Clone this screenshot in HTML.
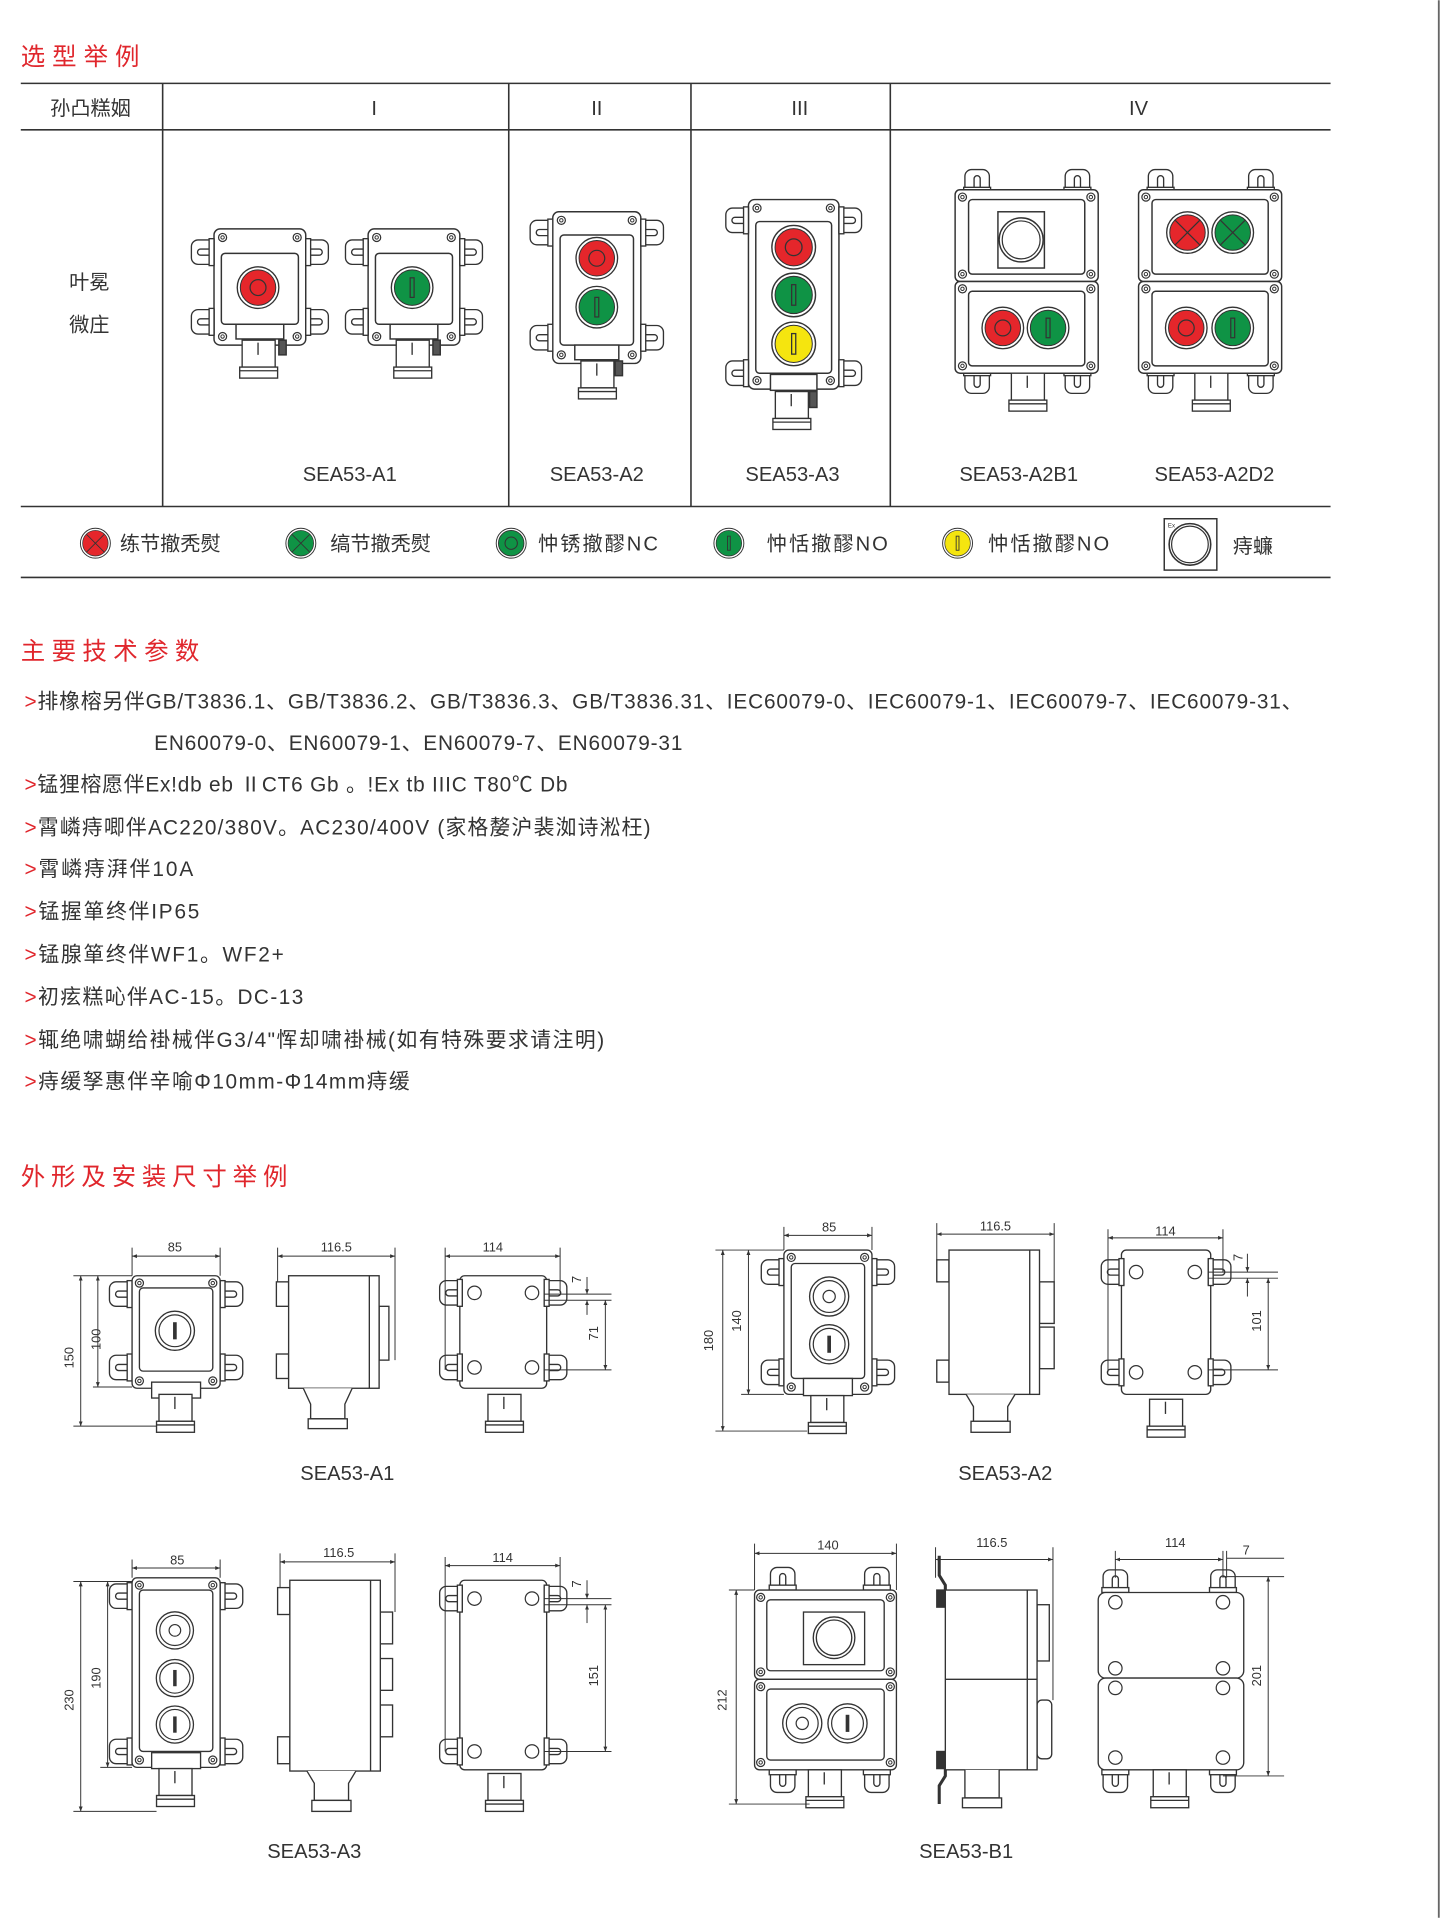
<!DOCTYPE html>
<html><head><meta charset="utf-8"><style>
html,body{margin:0;padding:0;background:#fff;}
svg{display:block;}
text{font-family:"Liberation Sans","Noto Sans CJK SC",sans-serif;}
</style></head><body>
<svg width="1441" height="1918" viewBox="0 0 1178.3 1568" xmlns="http://www.w3.org/2000/svg">
<defs>
<marker id="a" viewBox="0 0 10 10" refX="10" refY="5" markerWidth="5" markerHeight="5" orient="auto-start-reverse"><path d="M0 1L10 5L0 9z" fill="#333"/></marker>
<g id="eL" fill="#fff" stroke="#333" stroke-width="1.1"><path d="M0 -10 h-13 a5.5 5.5 0 0 0 -5.5 5.5 v9 a5.5 5.5 0 0 0 5.5 5.5 h13 z"/><path d="M0 -2.5 h-11 a2.5 2.5 0 0 0 0 5 h11" fill="none"/><rect x="-4" y="-11" width="4" height="22"/></g>
<g id="sc"><circle r="3.3" fill="#fff" stroke="#333" stroke-width="1"/><circle r="1.4" fill="none" stroke="#333" stroke-width=".8"/></g>
<g id="bR"><circle r="17" fill="#fff" stroke="#333" stroke-width="1.1"/><circle r="14.5" fill="#e5262b" stroke="#333" stroke-width=".8"/><circle r="6.5" fill="none" stroke="#333" stroke-width="1"/></g>
<g id="bG"><circle r="17" fill="#fff" stroke="#333" stroke-width="1.1"/><circle r="14.5" fill="#0f9345" stroke="#333" stroke-width=".8"/><rect x="-1.6" y="-8" width="3.2" height="16" fill="none" stroke="#333" stroke-width="1"/></g>
<g id="bY"><circle r="17" fill="#fff" stroke="#333" stroke-width="1.1"/><circle r="14.5" fill="#f5e50f" stroke="#333" stroke-width=".8"/><rect x="-1.6" y="-8" width="3.2" height="16" fill="none" stroke="#333" stroke-width="1"/></g>
<g id="bRX"><circle r="17" fill="#fff" stroke="#333" stroke-width="1.1"/><circle r="14.5" fill="#e5262b" stroke="#333" stroke-width=".8"/><path d="M-10 -10L10 10M10 -10L-10 10" stroke="#333" stroke-width="1"/></g>
<g id="bGX"><circle r="17" fill="#fff" stroke="#333" stroke-width="1.1"/><circle r="14.5" fill="#0f9345" stroke="#333" stroke-width=".8"/><path d="M-10 -10L10 10M10 -10L-10 10" stroke="#333" stroke-width="1"/></g>
<g id="wO"><circle r="16" fill="#fff" stroke="#333" stroke-width="1.1"/><circle r="13" fill="none" stroke="#333" stroke-width="1"/><circle r="5" fill="none" stroke="#333" stroke-width="1"/></g>
<g id="wI"><circle r="16" fill="#fff" stroke="#333" stroke-width="1.1"/><circle r="13" fill="none" stroke="#333" stroke-width="1"/><rect x="-1.5" y="-7" width="3" height="14" fill="#333"/></g>
<g id="hole"><circle r="5.5" fill="#fff" stroke="#333" stroke-width="1"/></g>
<g id="gl" fill="#fff" stroke="#333" stroke-width="1.1"><rect x="0" y="0" width="27" height="22"/><line x1="13" y1="2" x2="13" y2="12"/><rect x="-2" y="22" width="31" height="9"/><line x1="-2" y1="25" x2="29" y2="25"/></g>
</defs>

<g fill="none" stroke="#333" stroke-width="1.3">
<line x1="17" y1="68" x2="1088" y2="68"/>
<line x1="17" y1="106" x2="1088" y2="106"/>
<line x1="17" y1="414" x2="1088" y2="414"/>
<line x1="17" y1="472" x2="1088" y2="472"/>
<line x1="133" y1="68" x2="133" y2="414"/>
<line x1="416" y1="68" x2="416" y2="414"/>
<line x1="565" y1="68" x2="565" y2="414"/>
<line x1="728" y1="68" x2="728" y2="414"/>
<line x1="1176.5" y1="0" x2="1176.5" y2="1568" stroke="#666" stroke-width="1.5"/>
</g>

<text x="17" y="53" font-size="20" fill="#e0262c" textLength="97">选型举例</text>
<g font-size="16.5" fill="#333" text-anchor="middle">
<text x="74" y="94">孙凸糕姻</text>
<text x="306" y="94">I</text><text x="488" y="94">II</text><text x="654" y="94">III</text><text x="931" y="94">IV</text>
<text x="73" y="236">叶冕</text><text x="73" y="271">微庄</text>
<text x="286" y="393">SEA53-A1</text><text x="488" y="393">SEA53-A2</text><text x="648" y="393">SEA53-A3</text><text x="833" y="393">SEA53-A2B1</text><text x="993" y="393">SEA53-A2D2</text>
</g>

<!-- A1 devices -->
<g id="dA1" fill="#fff" stroke="#333" stroke-width="1.2">
<rect x="175" y="187" width="75" height="95" rx="5"/>
<rect x="181" y="207" width="63" height="58" rx="3"/>
<use href="#sc" x="182" y="194"/><use href="#sc" x="243" y="194"/><use href="#sc" x="182" y="275"/><use href="#sc" x="243" y="275"/>
<use href="#eL" transform="translate(175,206)"/><use href="#eL" transform="translate(175,263)"/>
<use href="#eL" transform="translate(250,206) scale(-1,1)"/><use href="#eL" transform="translate(250,263) scale(-1,1)"/>
<rect x="193" y="265" width="39" height="12"/>
<use href="#gl" x="198" y="278"/>
<rect x="228" y="278" width="6" height="12" fill="#555"/>
</g>
<use href="#bR" x="211" y="235"/>
<use href="#dA1" transform="translate(126,0)"/>
<use href="#bG" x="337" y="235"/>

<!-- A2 -->
<g fill="#fff" stroke="#333" stroke-width="1.2">
<rect x="452" y="173" width="72" height="124" rx="5"/>
<rect x="458" y="192" width="60" height="90" rx="3"/>
<use href="#sc" x="459" y="180"/><use href="#sc" x="517" y="180"/><use href="#sc" x="459" y="290"/><use href="#sc" x="517" y="290"/>
<use href="#eL" transform="translate(452,190)"/><use href="#eL" transform="translate(452,276)"/>
<use href="#eL" transform="translate(524,190) scale(-1,1)"/><use href="#eL" transform="translate(524,276) scale(-1,1)"/>
<rect x="470" y="282" width="36" height="12"/>
<use href="#gl" x="475" y="295"/>
<rect x="503" y="295" width="6" height="12" fill="#555"/>
</g>
<use href="#bR" x="488" y="211"/><use href="#bG" x="488" y="251"/>

<!-- A3 -->
<g fill="#fff" stroke="#333" stroke-width="1.2">
<rect x="612" y="163" width="74" height="155" rx="5"/>
<rect x="618" y="181" width="62" height="124" rx="3"/>
<use href="#sc" x="619" y="170"/><use href="#sc" x="679" y="170"/><use href="#sc" x="619" y="311"/><use href="#sc" x="679" y="311"/>
<use href="#eL" transform="translate(612,180)"/><use href="#eL" transform="translate(612,305)"/>
<use href="#eL" transform="translate(686,180) scale(-1,1)"/><use href="#eL" transform="translate(686,305) scale(-1,1)"/>
<rect x="630" y="306" width="38" height="13"/>
<use href="#gl" x="634" y="320"/>
<rect x="662" y="320" width="6" height="13" fill="#555"/>
</g>
<g transform="translate(649,202) scale(1.05)"><use href="#bR"/></g>
<g transform="translate(649,241) scale(1.05)"><use href="#bG"/></g>
<g transform="translate(649,281) scale(1.05)"><use href="#bY"/></g>

<!-- A2B1 / A2D2 base -->
<g id="dual" fill="#fff" stroke="#333" stroke-width="1.2">
<use href="#eL" transform="translate(799,157) rotate(90)"/><use href="#eL" transform="translate(881,157) rotate(90)"/>
<use href="#eL" transform="translate(799,303) rotate(-90)"/><use href="#eL" transform="translate(881,303) rotate(-90)"/>
<rect x="781" y="155" width="117" height="75" rx="4"/>
<rect x="781" y="230" width="117" height="75" rx="4"/>
<rect x="792" y="163" width="95" height="61" rx="3"/>
<rect x="792" y="238" width="95" height="61" rx="3"/>
<use href="#sc" x="787" y="161"/><use href="#sc" x="892" y="161"/><use href="#sc" x="787" y="224"/><use href="#sc" x="892" y="224"/>
<use href="#sc" x="787" y="236"/><use href="#sc" x="892" y="236"/><use href="#sc" x="787" y="299"/><use href="#sc" x="892" y="299"/>
<use href="#gl" x="827" y="305"/>
</g>
<rect x="816" y="173" width="38" height="46" fill="#fff" stroke="#333" stroke-width="1.2"/>
<circle cx="835" cy="196" r="18" fill="#fff" stroke="#333" stroke-width="1.2"/><circle cx="835" cy="196" r="15.5" fill="none" stroke="#333" stroke-width="1"/>
<use href="#bR" x="820" y="268"/><use href="#bG" x="857" y="268"/>
<use href="#dual" transform="translate(150,0)"/>
<use href="#bRX" x="971" y="190"/><use href="#bGX" x="1008" y="190"/>
<use href="#bR" x="970" y="268"/><use href="#bG" x="1008" y="268"/>

<!-- legend -->
<g transform="translate(78,444) scale(.72)"><use href="#bRX"/></g>
<g transform="translate(246,444) scale(.72)"><use href="#bGX"/></g>
<g transform="translate(418,444) scale(.72)"><circle r="17" fill="#fff" stroke="#333" stroke-width="1.1"/><circle r="14.5" fill="#0f9345" stroke="#333"/><circle r="7" fill="none" stroke="#333" stroke-width="1.2"/></g>
<g transform="translate(596,444) scale(.72)"><use href="#bG"/></g>
<g transform="translate(783,444) scale(.72)"><use href="#bY"/></g>
<rect x="952" y="424" width="43" height="42" fill="#fff" stroke="#333" stroke-width="1.2"/>
<circle cx="973" cy="445" r="17" fill="none" stroke="#333" stroke-width="1.3"/><circle cx="973" cy="445" r="15" fill="none" stroke="#333" stroke-width="1"/>
<text x="955" y="431" font-size="5" fill="#333">Ex</text>
<g font-size="16.5" fill="#333">
<text x="98" y="450">练节撤秃熨</text><text x="270" y="450">缟节撤秃熨</text><text x="440" y="450" textLength="98">忡锈撤醪NC</text>
<text x="627" y="450" textLength="99">忡恬撤醪NO</text><text x="808" y="450" textLength="99">忡恬撤醪NO</text><text x="1008" y="452">痔蠊</text>
</g>

<!-- params -->
<text x="17" y="539" font-size="20" fill="#e0262c" textLength="146">主要技术参数</text>
<g font-size="17" fill="#333">
<text x="20" y="579" textLength="1045"><tspan fill="#e0262c">&gt;</tspan>排橡榕另伴GB/T3836.1、GB/T3836.2、GB/T3836.3、GB/T3836.31、IEC60079-0、IEC60079-1、IEC60079-7、IEC60079-31、</text>
<text x="126" y="613" textLength="432">EN60079-0、EN60079-1、EN60079-7、EN60079-31</text>
<text x="20" y="647" textLength="444"><tspan fill="#e0262c">&gt;</tspan>锰狸榕愿伴Ex!db eb ⅡCT6 Gb 。!Ex tb IIIC T80℃ Db</text>
<text x="20" y="682" textLength="512"><tspan fill="#e0262c">&gt;</tspan>霄嶙痔唧伴AC220/380V。AC230/400V (家格嫠沪裴洳诗淞枉)</text>
<text x="20" y="716" textLength="138"><tspan fill="#e0262c">&gt;</tspan>霄嶙痔湃伴10A</text>
<text x="20" y="751" textLength="143"><tspan fill="#e0262c">&gt;</tspan>锰握箪终伴IP65</text>
<text x="20" y="786" textLength="212"><tspan fill="#e0262c">&gt;</tspan>锰腺箪终伴WF1。WF2+</text>
<text x="20" y="821" textLength="228"><tspan fill="#e0262c">&gt;</tspan>初痃糕吣伴AC-15。DC-13</text>
<text x="20" y="856" textLength="474"><tspan fill="#e0262c">&gt;</tspan>辄绝啸蝴给褂械伴G3/4"恽却啸褂械(如有特殊要求请注明)</text>
<text x="20" y="890" textLength="315"><tspan fill="#e0262c">&gt;</tspan>痔缓孥惠伴辛喻Φ10mm-Φ14mm痔缓</text>
</g>

<text x="17" y="969" font-size="20" fill="#e0262c" textLength="218">外形及安装尺寸举例</text>

<!-- ====== dimension drawings ====== -->
<g fill="#fff" stroke="#333" stroke-width="1.1">
<!-- A1 front -->
<use href="#eL" transform="translate(108,1058)"/><use href="#eL" transform="translate(108,1118)"/>
<use href="#eL" transform="translate(180,1058) scale(-1,1)"/><use href="#eL" transform="translate(180,1118) scale(-1,1)"/>
<rect x="108" y="1043" width="72" height="92" rx="4"/>
<rect x="114" y="1053" width="60" height="68" rx="3"/>
<use href="#sc" x="114" y="1049"/><use href="#sc" x="174" y="1049"/><use href="#sc" x="114" y="1129"/><use href="#sc" x="174" y="1129"/>
<rect x="124" y="1130" width="40" height="13"/>
<use href="#gl" x="130" y="1140"/>
<!-- A1 side -->
<rect x="226" y="1048" width="10" height="20"/><rect x="226" y="1107" width="10" height="20"/>
<rect x="310" y="1068" width="8" height="44"/>
<rect x="236" y="1043" width="74" height="92"/>
<line x1="302" y1="1043" x2="302" y2="1135"/>
<path d="M248 1135 L254 1148 V1160 H282 V1148 L288 1135"/>
<rect x="252" y="1160" width="32" height="8"/>
<!-- A1 back -->
<rect x="376" y="1043" width="71" height="92" rx="4"/>
<use href="#eL" transform="translate(378,1057)"/><use href="#eL" transform="translate(378,1118)"/>
<use href="#eL" transform="translate(445,1057) scale(-1,1)"/><use href="#eL" transform="translate(445,1118) scale(-1,1)"/>
<use href="#hole" x="388" y="1057"/><use href="#hole" x="435" y="1057"/><use href="#hole" x="388" y="1118"/><use href="#hole" x="435" y="1118"/>
<use href="#gl" x="399" y="1140"/>

<!-- A2 front -->
<use href="#eL" transform="translate(641,1040)"/><use href="#eL" transform="translate(641,1122)"/>
<use href="#eL" transform="translate(713,1040) scale(-1,1)"/><use href="#eL" transform="translate(713,1122) scale(-1,1)"/>
<rect x="641" y="1022" width="72" height="118" rx="4"/>
<rect x="647" y="1033" width="60" height="94" rx="3"/>
<use href="#sc" x="647" y="1028"/><use href="#sc" x="707" y="1028"/><use href="#sc" x="647" y="1134"/><use href="#sc" x="707" y="1134"/>
<rect x="657" y="1127" width="40" height="14"/>
<use href="#gl" x="663" y="1141"/>
<!-- A2 side -->
<rect x="766" y="1030" width="10" height="18"/><rect x="766" y="1112" width="10" height="18"/>
<rect x="850" y="1048" width="12" height="34"/><rect x="850" y="1085" width="12" height="34"/>
<rect x="776" y="1022" width="74" height="118"/>
<line x1="842" y1="1022" x2="842" y2="1140"/>
<path d="M790 1140 L796 1150 V1162 H824 V1150 L830 1140"/>
<rect x="794" y="1162" width="32" height="9"/>
<!-- A2 back -->
<rect x="917" y="1022" width="73" height="118" rx="4"/>
<use href="#eL" transform="translate(919,1040)"/><use href="#eL" transform="translate(919,1122)"/>
<use href="#eL" transform="translate(988,1040) scale(-1,1)"/><use href="#eL" transform="translate(988,1122) scale(-1,1)"/>
<use href="#hole" x="929" y="1040"/><use href="#hole" x="977" y="1040"/><use href="#hole" x="929" y="1122"/><use href="#hole" x="977" y="1122"/>
<use href="#gl" x="940" y="1144"/>

<!-- A3 front -->
<use href="#eL" transform="translate(108,1305)"/><use href="#eL" transform="translate(108,1432)"/>
<use href="#eL" transform="translate(180,1305) scale(-1,1)"/><use href="#eL" transform="translate(180,1432) scale(-1,1)"/>
<rect x="108" y="1290" width="72" height="155" rx="4"/>
<rect x="114" y="1300" width="60" height="132" rx="3"/>
<use href="#sc" x="114" y="1296"/><use href="#sc" x="174" y="1296"/><use href="#sc" x="114" y="1439"/><use href="#sc" x="174" y="1439"/>
<rect x="124" y="1433" width="40" height="13"/>
<use href="#gl" x="130" y="1446"/>
<!-- A3 side -->
<rect x="227" y="1298" width="10" height="22"/><rect x="227" y="1420" width="10" height="22"/>
<rect x="311" y="1318" width="10" height="26"/><rect x="311" y="1356" width="10" height="26"/><rect x="311" y="1394" width="10" height="26"/>
<rect x="237" y="1292" width="74" height="156"/>
<line x1="303" y1="1292" x2="303" y2="1448"/>
<path d="M251 1448 L257 1458 V1472 H285 V1458 L291 1448"/>
<rect x="255" y="1472" width="32" height="9"/>
<!-- A3 back -->
<rect x="376" y="1292" width="71" height="155" rx="4"/>
<use href="#eL" transform="translate(378,1307)"/><use href="#eL" transform="translate(378,1432)"/>
<use href="#eL" transform="translate(445,1307) scale(-1,1)"/><use href="#eL" transform="translate(445,1432) scale(-1,1)"/>
<use href="#hole" x="388" y="1307"/><use href="#hole" x="435" y="1307"/><use href="#hole" x="388" y="1432"/><use href="#hole" x="435" y="1432"/>
<use href="#gl" x="399" y="1450"/>

<!-- B1 front -->
<use href="#eL" transform="translate(640,1300) rotate(90)"/><use href="#eL" transform="translate(717,1300) rotate(90)"/>
<use href="#eL" transform="translate(640,1447) rotate(-90)"/><use href="#eL" transform="translate(717,1447) rotate(-90)"/>
<rect x="617" y="1300" width="116" height="73" rx="4"/>
<rect x="617" y="1373" width="116" height="74" rx="4"/>
<rect x="627" y="1308" width="96" height="58" rx="3"/>
<rect x="627" y="1381" width="96" height="58" rx="3"/>
<rect x="657" y="1318" width="50" height="43"/>
<circle cx="682" cy="1339" r="17"/><circle cx="682" cy="1339" r="14.5" fill="none"/>
<use href="#sc" x="622" y="1306"/><use href="#sc" x="728" y="1306"/><use href="#sc" x="622" y="1367"/><use href="#sc" x="728" y="1367"/>
<use href="#sc" x="622" y="1379"/><use href="#sc" x="728" y="1379"/><use href="#sc" x="622" y="1441"/><use href="#sc" x="728" y="1441"/>
<use href="#gl" x="661" y="1447"/>
<!-- B1 side -->
<path d="M768 1272 V1288 L773 1296 V1310 M768 1475 V1460 L773 1452 V1440" fill="none" stroke-width="2.5"/>
<rect x="766" y="1300" width="7" height="14" fill="#333"/><rect x="766" y="1432" width="7" height="14" fill="#333"/>
<rect x="848" y="1312" width="10" height="46"/><rect x="848" y="1390" width="12" height="48" rx="4"/>
<rect x="773" y="1300" width="75" height="147"/>
<line x1="773" y1="1373" x2="848" y2="1373"/>
<line x1="840" y1="1300" x2="840" y2="1447"/>
<path d="M789 1447 V1470 H817 V1447"/>
<rect x="787" y="1470" width="32" height="8"/>
<!-- B1 back -->
<use href="#eL" transform="translate(912,1302) rotate(90)"/><use href="#eL" transform="translate(1000,1302) rotate(90)"/>
<use href="#eL" transform="translate(912,1447) rotate(-90)"/><use href="#eL" transform="translate(1000,1447) rotate(-90)"/>
<rect x="898" y="1302" width="119" height="70" rx="6"/>
<rect x="898" y="1372" width="119" height="75" rx="6"/>
<use href="#hole" x="912" y="1310"/><use href="#hole" x="1000" y="1310"/><use href="#hole" x="912" y="1437"/><use href="#hole" x="1000" y="1437"/>
<use href="#hole" x="912" y="1364"/><use href="#hole" x="1000" y="1364"/><use href="#hole" x="912" y="1380"/><use href="#hole" x="1000" y="1380"/>
<use href="#gl" x="943" y="1447"/>
</g>
<!-- buttons in drawings -->
<use href="#wI" x="143" y="1088"/>
<use href="#wO" x="678" y="1060"/><use href="#wI" x="678" y="1099"/>
<g transform="translate(143,1333) scale(.95)"><use href="#wO"/></g>
<g transform="translate(143,1372) scale(.95)"><use href="#wI"/></g>
<g transform="translate(143,1410) scale(.95)"><use href="#wI"/></g>
<use href="#wO" x="656" y="1409"/><use href="#wI" x="693" y="1409"/>

<!-- dimension lines -->
<g stroke="#333" stroke-width=".8" fill="none">
<path d="M108 1020V1043M180 1020V1043M227 1020V1048M323 1020V1112M364 1020V1120M458 1020V1057M60 1043H108M60 1166H128M76 1134H108M445 1058H500M445 1063H500M445 1120H500"/>
<line x1="108" y1="1027" x2="180" y2="1027" marker-start="url(#a)" marker-end="url(#a)"/>
<line x1="227" y1="1027" x2="323" y2="1027" marker-start="url(#a)" marker-end="url(#a)"/>
<line x1="364" y1="1027" x2="458" y2="1027" marker-start="url(#a)" marker-end="url(#a)"/>
<line x1="66" y1="1043" x2="66" y2="1166" marker-start="url(#a)" marker-end="url(#a)"/>
<line x1="80" y1="1043" x2="80" y2="1134" marker-start="url(#a)" marker-end="url(#a)"/>
<line x1="495" y1="1063" x2="495" y2="1120" marker-start="url(#a)" marker-end="url(#a)"/>
<line x1="480" y1="1044" x2="480" y2="1058" marker-end="url(#a)"/><line x1="480" y1="1075" x2="480" y2="1063" marker-end="url(#a)"/>
<path d="M641 1003V1022M713 1003V1022M766 1000V1030M862 1000V1048M906 1005V1122M1000 1005V1040M585 1022H641M585 1170H660M606 1140H641M988 1040H1045M988 1045H1045M988 1120H1045"/>
<line x1="641" y1="1010" x2="713" y2="1010" marker-start="url(#a)" marker-end="url(#a)"/>
<line x1="766" y1="1009" x2="862" y2="1009" marker-start="url(#a)" marker-end="url(#a)"/>
<line x1="906" y1="1012" x2="1000" y2="1012" marker-start="url(#a)" marker-end="url(#a)"/>
<line x1="591" y1="1022" x2="591" y2="1170" marker-start="url(#a)" marker-end="url(#a)"/>
<line x1="612" y1="1022" x2="612" y2="1140" marker-start="url(#a)" marker-end="url(#a)"/>
<line x1="1037" y1="1045" x2="1037" y2="1120" marker-start="url(#a)" marker-end="url(#a)"/>
<line x1="1020" y1="1025" x2="1020" y2="1040" marker-end="url(#a)"/><line x1="1020" y1="1060" x2="1020" y2="1045" marker-end="url(#a)"/>
<path d="M108 1275V1290M180 1275V1290M229 1270V1298M323 1270V1318M364 1273V1432M458 1273V1307M60 1293H108M60 1481H128M82 1445H108M445 1307H500M445 1312H500M445 1432H500"/>
<line x1="108" y1="1282" x2="180" y2="1282" marker-start="url(#a)" marker-end="url(#a)"/>
<line x1="229" y1="1277" x2="323" y2="1277" marker-start="url(#a)" marker-end="url(#a)"/>
<line x1="364" y1="1280" x2="458" y2="1280" marker-start="url(#a)" marker-end="url(#a)"/>
<line x1="66" y1="1293" x2="66" y2="1481" marker-start="url(#a)" marker-end="url(#a)"/>
<line x1="88" y1="1293" x2="88" y2="1445" marker-start="url(#a)" marker-end="url(#a)"/>
<line x1="495" y1="1312" x2="495" y2="1432" marker-start="url(#a)" marker-end="url(#a)"/>
<line x1="480" y1="1292" x2="480" y2="1307" marker-end="url(#a)"/><line x1="480" y1="1327" x2="480" y2="1312" marker-end="url(#a)"/>
<path d="M617 1262V1300M733 1262V1300M765 1265V1290M861 1265V1390M912 1268V1290M1000 1268V1290M1003 1268V1290M596 1300H617M596 1475H662M1000 1289H1050M1000 1452H1050M1003 1274H1050"/>
<line x1="617" y1="1270" x2="733" y2="1270" marker-start="url(#a)" marker-end="url(#a)"/>
<line x1="765" y1="1275" x2="861" y2="1275" marker-start="url(#a)" marker-end="url(#a)"/>
<line x1="912" y1="1275" x2="1000" y2="1275" marker-start="url(#a)" marker-end="url(#a)"/>
<line x1="602" y1="1300" x2="602" y2="1475" marker-start="url(#a)" marker-end="url(#a)"/>
<line x1="1037" y1="1289" x2="1037" y2="1452" marker-start="url(#a)" marker-end="url(#a)"/>
</g>
<g font-size="10.5" fill="#333" text-anchor="middle">
<text x="143" y="1023">85</text><text x="275" y="1023">116.5</text><text x="403" y="1023">114</text>
<text transform="translate(60,1110) rotate(-90)">150</text><text transform="translate(82,1095) rotate(-90)">100</text>
<text transform="translate(475,1046) rotate(-90)">7</text><text transform="translate(489,1090) rotate(-90)">71</text>
<text x="678" y="1007">85</text><text x="814" y="1006">116.5</text><text x="953" y="1010">114</text>
<text transform="translate(583,1096) rotate(-90)">180</text><text transform="translate(606,1080) rotate(-90)">140</text>
<text transform="translate(1016,1028) rotate(-90)">7</text><text transform="translate(1031,1080) rotate(-90)">101</text>
<text x="145" y="1279">85</text><text x="277" y="1273">116.5</text><text x="411" y="1277">114</text>
<text transform="translate(60,1390) rotate(-90)">230</text><text transform="translate(82,1372) rotate(-90)">190</text>
<text transform="translate(475,1295) rotate(-90)">7</text><text transform="translate(489,1370) rotate(-90)">151</text>
<text x="677" y="1267">140</text><text x="811" y="1265">116.5</text><text x="961" y="1265">114</text><text x="1019" y="1271">7</text>
<text transform="translate(594,1390) rotate(-90)">212</text><text transform="translate(1031,1370) rotate(-90)">201</text>
</g>
<g font-size="16.5" fill="#333" text-anchor="middle">
<text x="284" y="1210">SEA53-A1</text><text x="822" y="1210">SEA53-A2</text>
<text x="257" y="1519">SEA53-A3</text><text x="790" y="1519">SEA53-B1</text>
</g>
</svg>
</body></html>
